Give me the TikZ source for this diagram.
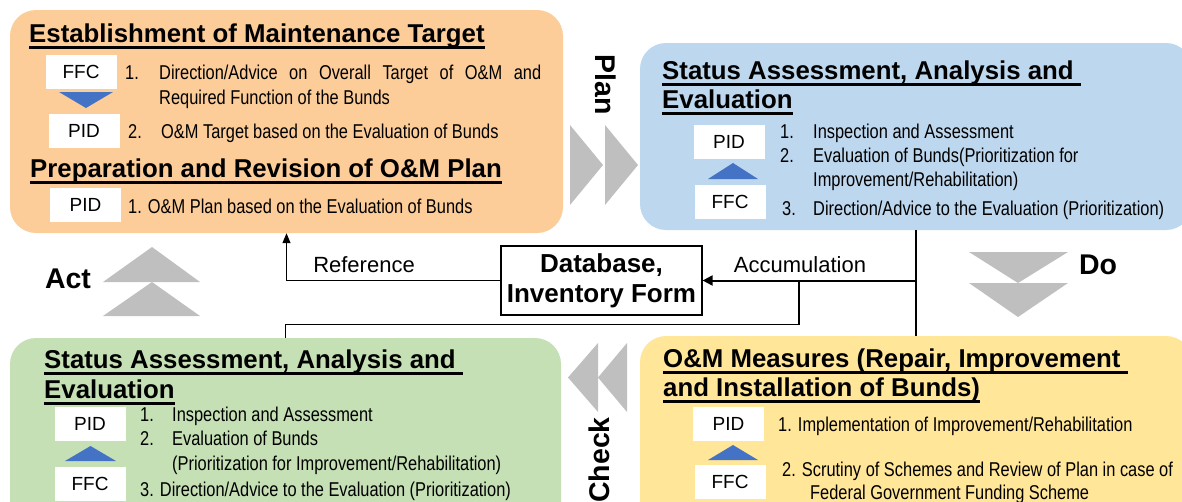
\documentclass[tikz,border=0pt]{standalone}
\usepackage{fontspec}
\setmainfont{Liberation Sans}
\newfontfamily\narrowfont{Liberation Sans}[FakeStretch=0.82]
\usepackage{tikz}
\usetikzlibrary{arrows.meta}

\definecolor{peach}{RGB}{252,204,153}
\definecolor{skyblue}{RGB}{189,215,238}
\definecolor{sage}{RGB}{197,224,180}
\definecolor{butter}{RGB}{255,230,153}
\definecolor{chevgray}{RGB}{191,191,191}
\definecolor{tagblue}{RGB}{68,114,196}

\newcommand\ulhead[1]{\setbox0\hbox{#1}\rlap{\rule[-6.6pt]{\wd0}{2.2pt}}\box0}

\begin{document}
\begin{tikzpicture}[x=1pt,y=-1pt,
    panel/.style={rounded corners=26pt,inner sep=0pt},
    tag/.style={fill=white,minimum width=71pt,minimum height=34pt,inner sep=0pt,font=\fontsize{19}{22}\selectfont},
    head/.style={anchor=base west,inner sep=0pt,font=\bfseries\fontsize{25.8}{30}\selectfont},
    body/.style={anchor=base west,inner sep=0pt,font=\narrowfont\fontsize{20}{24}\selectfont},
    lbl/.style={inner sep=0pt,font=\fontsize{22}{26}\selectfont},
    phase/.style={inner sep=0pt,font=\bfseries\fontsize{28.5}{32}\selectfont},
    chev/.style={fill=chevgray},
    pointer/.style={fill=tagblue},
    link/.style={line width=1.2pt}]
    \useasboundingbox (0,0) rectangle (1182,501);
    \clip (0,0) rectangle (1182,501);

    % the four stages
    \node[panel,fill=peach,minimum width=553pt,minimum height=223pt] (target) at (286.5,121.5) {};
    \node[panel,fill=skyblue,minimum width=552pt,minimum height=187pt] (status) at (916,136.5) {};
    \node[panel,fill=sage,minimum width=551pt,minimum height=200pt] (review) at (285.5,438) {};
    \node[panel,fill=butter,minimum width=552pt,minimum height=200pt] (measure) at (916,436) {};

    % Plan
    \node[head] (headA) at (29,42) {\ulhead{Establishment of Maintenance Target}};
    \node[tag] (ffcA) at (81,71.5) {FFC};
    \fill[pointer] (59,92) -- (113,92) -- (86,108) -- cycle;
    \node[tag] (pidA) at (84,131) {PID};
    \node[body] (numA1) at (125,79) {1.};
    \node[body] (itemA1) at (159,79) {\makebox[382pt][s]{Direction/Advice on Overall Target of O\&M and}};
    \node[body] (itemA1b) at (159,104) {Required Function of the Bunds};
    \node[body] (numA2) at (128,138) {2.};
    \node[body] (itemA2) at (161,138) {O\&M Target based on the Evaluation of Bunds};
    \node[head] (headB) at (30,177) {\ulhead{Preparation and Revision of O\&M Plan}};
    \node[tag] (pidB) at (85.5,205) {PID};
    \node[body] (itemB1) at (128,213) {1. O\&M Plan based on the Evaluation of Bunds};

    % Status assessment (top)
    \node[head] (headC) at (662,79) {\ulhead{Status Assessment, Analysis and\ }};
    \node[head] (headC2) at (662,108) {\ulhead{Evaluation}};
    \node[tag] (pidC) at (729,142) {PID};
    \fill[pointer] (708,179) -- (758,179) -- (733,163) -- cycle;
    \node[tag] (ffcC) at (730,202) {FFC};
    \node[body] (numC1) at (780,138) {1.};
    \node[body] (itemC1) at (813,138) {Inspection and Assessment};
    \node[body] (numC2) at (780,162) {2.};
    \node[body] (itemC2) at (813,162) {Evaluation of Bunds(Prioritization for};
    \node[body] (itemC2b) at (813,186) {Improvement/Rehabilitation)};
    \node[body] (numC3) at (782,215) {3.};
    \node[body] (itemC3) at (813,215) {Direction/Advice to the Evaluation (Prioritization)};

    % O&M measures
    \node[head] (headD) at (663,367) {\ulhead{O\&M Measures (Repair, Improvement\ }};
    \node[head] (headD2) at (663,396) {\ulhead{and Installation of Bunds)}};
    \node[tag] (pidD) at (728.5,423.5) {PID};
    \fill[pointer] (708,460) -- (758,460) -- (733,445) -- cycle;
    \node[tag] (ffcD) at (730,482) {FFC};
    \node[body] (itemD1) at (778,431) {1. Implementation of Improvement/Rehabilitation};
    \node[body] (itemD2) at (782,476) {2. Scrutiny of Schemes and Review of Plan in case of};
    \node[body] (itemD2b) at (810,499) {Federal Government Funding Scheme};

    % Status assessment (bottom)
    \node[head] (headE) at (44,368) {\ulhead{Status Assessment, Analysis and\ }};
    \node[head] (headE2) at (44,398) {\ulhead{Evaluation}};
    \node[tag] (pidE) at (90,423.5) {PID};
    \fill[pointer] (65,461) -- (116,461) -- (90.5,446) -- cycle;
    \node[tag] (ffcE) at (90,484) {FFC};
    \node[body] (numE1) at (140,421) {1.};
    \node[body] (itemE1) at (172,421) {Inspection and Assessment};
    \node[body] (numE2) at (140,445) {2.};
    \node[body] (itemE2) at (172,445) {Evaluation of Bunds};
    \node[body] (itemE2b) at (172,470) {(Prioritization for Improvement/Rehabilitation)};
    \node[body] (itemE3) at (140,496) {3. Direction/Advice to the Evaluation (Prioritization)};

    % cycle chevrons
    \fill[chev] (570,125) -- (603,165) -- (570,205) -- cycle;
    \fill[chev] (605,125) -- (638,165) -- (605,205) -- cycle;
    \fill[chev] (969,252) -- (1068,252) -- (1018,283) -- cycle;
    \fill[chev] (969,283) -- (1068,283) -- (1018,317) -- cycle;
    \fill[chev] (598,343) -- (568,377.5) -- (598,412) -- cycle;
    \fill[chev] (627,343) -- (598,377.5) -- (627,412) -- cycle;
    \fill[chev] (103,282) -- (200,282) -- (152,247) -- cycle;
    \fill[chev] (103,316) -- (200,316) -- (152,282) -- cycle;
    \node[phase,rotate=-90] (plan) at (606,85) {Plan};
    \node[phase] (do) at (1098,265) {Do};
    \node[phase,rotate=90] (check) at (599,460) {Check};
    \node[phase] (act) at (68,279) {Act};

    % database and links
    \node[draw,link,fill=white,minimum width=201pt,minimum height=69pt,align=center,
          font=\bfseries\fontsize{26}{30}\selectfont] (db) at (601.5,280.5) {Database,\\Inventory Form};
    \coordinate (tap) at (status.south |- db.east);
    \coordinate (split) at (799,0 |- db.east);
    \draw[link] (status.south) -- (measure.north);
    \draw[line width=2pt,-{Triangle[length=10pt,width=10pt]}] (tap) -- (db.east);
    \draw[link,-{Triangle[length=10pt,width=8pt]}] (db.west) -| (target.south);
    \draw[link] (split) -- ++(0,44) -| (review.north);
    \node[lbl] (reflbl) at (364,265) {Reference};
    \node[lbl] (acclbl) at (800,265) {Accumulation};
\end{tikzpicture}
\end{document}
